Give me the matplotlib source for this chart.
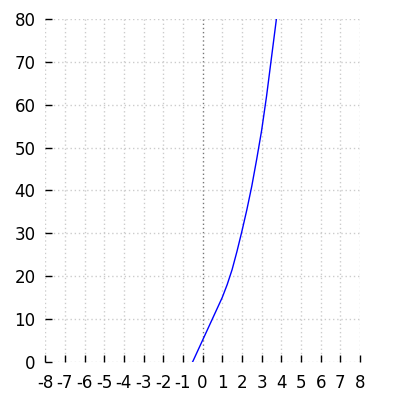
import matplotlib
matplotlib.use("Agg")
import matplotlib.pyplot as plt

plt.rcParams['axes.unicode_minus'] = False

x_vals = [-0.5, 0.0, 0.5, 1.0, 1.25, 1.5, 1.75, 2.0, 2.25, 2.5, 2.75, 3.0, 3.25, 3.5, 3.75]
y_vals = [0.0, 5.0, 10.0, 15.0, 18.0, 21.5, 25.8, 30.5, 35.5, 41.0, 47.3, 54.0, 62.0, 71.0, 80.0]
x_ticks = list(range(-8, 9))
y_ticks = list(range(0, 81, 10))

fig = plt.figure(figsize=(4, 4), dpi=100)
ax = fig.add_axes([0.113, 0.096, 0.787, 0.856])

for t in x_ticks:
    if t == 0:
        ax.axvline(t, color='#777777', lw=1, ls=(0, (1, 2)), zorder=1)
    else:
        ax.axvline(t, color='#cccccc', lw=1, ls=(0, (1, 2)), zorder=1)
for t in y_ticks:
    ax.axhline(t, color='#cccccc', lw=1, ls=(0, (1, 2)), zorder=1)

ax.plot(x_vals, y_vals, color='#0000ff', lw=1, zorder=3)

ax.set_xlim(-8, 8)
ax.set_ylim(0, 80)
ax.set_xticks(x_ticks)
ax.set_yticks(y_ticks)
ax.set_xticklabels([str(t) for t in x_ticks])
ax.set_yticklabels([str(t) for t in y_ticks])
for s in ax.spines.values():
    s.set_visible(False)
ax.tick_params(axis='x', direction='in', length=5, width=1, pad=9, labelsize=12, colors='black')
ax.tick_params(axis='y', direction='in', length=5, width=1, pad=7, labelsize=12, colors='black')

fig.savefig('out.png', dpi=100)
